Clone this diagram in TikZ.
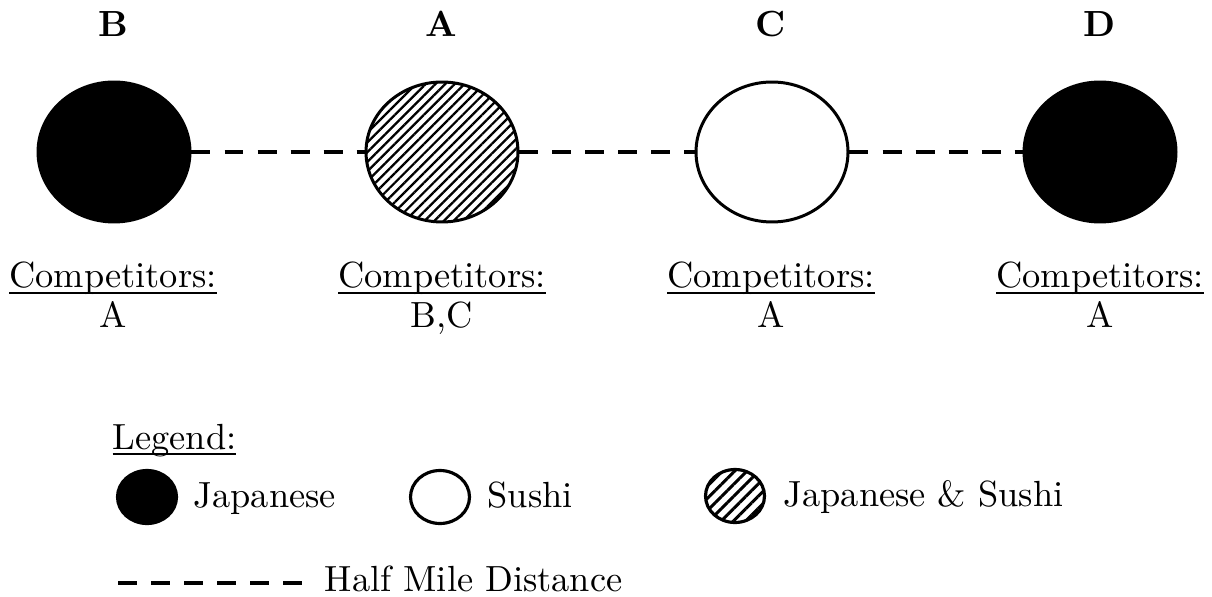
\documentclass[tikz,border=0pt]{standalone}
\usepackage{amsmath}
\usetikzlibrary{shapes.geometric,patterns.meta}
\newcommand{\ulbase}[1]{\underline{\smash[b]{#1}}}
\begin{document}
\begin{tikzpicture}[x=0.02cm,y=-0.02cm,
  txt/.style={inner sep=0pt,font=\fontsize{10}{12}\selectfont,scale=2.07},
  lbl/.style={txt,font=\fontsize{10}{12}\selectfont\bfseries},
  big/.style={ellipse,draw,line width=1.7pt,inner sep=0pt,minimum width=3.04cm,minimum height=2.8cm},
  small/.style={ellipse,draw,line width=1.8pt,inner sep=0pt,minimum width=1.18cm,minimum height=1.06cm},
  jap/.style={fill=black},
  sushi/.style={fill=white},
  both/.style={pattern={Lines[angle=45,distance=3.9pt,line width=1.3pt]}},
  bothsmall/.style={pattern={Lines[angle=45,distance=4.9pt,line width=1.7pt]}},
  conn/.style={line width=2pt,dash pattern=on 10.8pt off 8pt}]
\useasboundingbox (0,0) rectangle (1212,597);
% main nodes
\node[big,jap]   (B) at (114,152) {};
\node[big,both]  (A) at (442,152) {};
\node[big,sushi] (C) at (772,152) {};
\node[big,jap]   (D) at (1100,152) {};
\draw[conn] (B) -- (A);
\draw[conn] (A) -- (C);
\draw[conn] (C) -- (D);
% top labels
\node[lbl,anchor=base] (lB) at (113,37) {B};
\node[lbl,anchor=base] (lA) at (441,37) {A};
\node[lbl,anchor=base] (lC) at (771,37) {C};
\node[lbl,anchor=base] (lD) at (1100,37) {D};
% competitors
\node[txt,anchor=base] (cB) at (113,288) {\ulbase{Competitors:}};
\node[txt,anchor=base] (cA) at (442,288) {\ulbase{Competitors:}};
\node[txt,anchor=base] (cC) at (771,288) {\ulbase{Competitors:}};
\node[txt,anchor=base] (cD) at (1100,288) {\ulbase{Competitors:}};
\node[txt,anchor=base] (kB) at (113,328) {A};
\node[txt,anchor=base] (kA) at (442,328) {B,C};
\node[txt,anchor=base] (kC) at (771,328) {A};
\node[txt,anchor=base] (kD) at (1100,328) {A};
% legend
\node[txt,anchor=base west] (leg) at (112,449) {\ulbase{Legend:}};
\node[small,jap]   (gJ) at (147,497) {};
\node[txt,anchor=base west] (tJ) at (193,507) {Japanese};
\node[small,sushi] (gS) at (440,497) {};
\node[txt,anchor=base west] (tS) at (487,507) {Sushi};
\node[small,bothsmall] (gB) at (735,496) {};
\node[txt,anchor=base west] (tB) at (783,506) {Japanese \& Sushi};
\coordinate (h1) at (118,583);
\coordinate (h2) at (302,583);
\draw[conn] (h1) -- (h2);
\node[txt,anchor=base west] (tH) at (324,591) {Half Mile Distance};
\end{tikzpicture}
\end{document}
